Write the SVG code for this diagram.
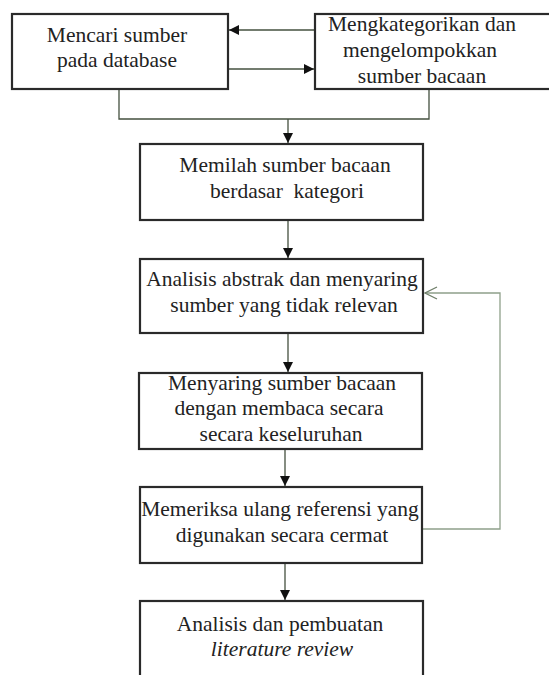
<svg xmlns="http://www.w3.org/2000/svg" width="549" height="675" viewBox="0 0 549 675">
<style>
.box{fill:#fff;stroke:#2a2a2a;stroke-width:2.2}
.t{font-family:"Liberation Serif","Times New Roman",serif;font-size:21.5px;fill:#222;text-anchor:middle}
.i{font-style:italic}
.c{fill:none;stroke:#44503f;stroke-width:1.3}
.fb{fill:none;stroke:#8fa08a;stroke-width:1.3}
</style>
<defs>
<marker id="ah" viewBox="0 0 10 10" refX="10" refY="5" markerWidth="10" markerHeight="10" markerUnits="userSpaceOnUse" orient="auto">
<path d="M0,0 L10,5 L0,10 Z" fill="#111"/>
</marker>
<marker id="oa" viewBox="0 0 14 14" refX="13" refY="7" markerWidth="14" markerHeight="14" markerUnits="userSpaceOnUse" orient="auto">
<path d="M1,1 L13,7 L1,13" fill="none" stroke="#6f7f6a" stroke-width="1.3"/>
</marker>
</defs>
<g id="connectors">
<line class="c" x1="315" y1="30" x2="229" y2="30" marker-end="url(#ah)"/>
<line class="c" x1="228" y1="69" x2="314" y2="69" marker-end="url(#ah)"/>
<polyline class="c" points="119,89 119,119 429,119 429,89"/>
<line class="c" x1="288" y1="119" x2="288" y2="143" marker-end="url(#ah)"/>
<line class="c" x1="288" y1="220" x2="288" y2="258" marker-end="url(#ah)"/>
<line class="c" x1="288" y1="333" x2="288" y2="372" marker-end="url(#ah)"/>
<line class="c" x1="285" y1="449" x2="285" y2="486" marker-end="url(#ah)"/>
<line class="c" x1="285" y1="563" x2="285" y2="600" marker-end="url(#ah)"/>
<polyline class="fb" points="423,529 500,529 500,293 425,293" marker-end="url(#oa)"/>
</g>
<g id="n1">
<rect class="box" x="12" y="14" width="216" height="75"/>
<text class="t" x="117" y="42">Mencari sumber</text>
<text class="t" x="117" y="67">pada database</text>
</g>
<g id="n2">
<rect class="box" x="315" y="14" width="250" height="75"/>
<text class="t" x="422" y="31">Mengkategorikan dan</text>
<text class="t" x="420" y="57">mengelompokkan</text>
<text class="t" x="422" y="83">sumber bacaan</text>
</g>
<g id="n3">
<rect class="box" x="140" y="144" width="283" height="76"/>
<text class="t" x="285" y="172">Memilah sumber bacaan</text>
<text class="t" x="287" y="198" xml:space="preserve">berdasar  kategori</text>
</g>
<g id="n4">
<rect class="box" x="140" y="259" width="283" height="74" stroke-width="2.8"/>
<text class="t" x="282" y="286">Analisis abstrak dan menyaring</text>
<text class="t" x="284" y="312">sumber yang tidak relevan</text>
</g>
<g id="n5">
<rect class="box" x="139" y="373" width="283" height="76"/>
<text class="t" x="282" y="390">Menyaring sumber bacaan</text>
<text class="t" x="279" y="415">dengan membaca secara</text>
<text class="t" x="281" y="441">secara keseluruhan</text>
</g>
<g id="n6">
<rect class="box" x="140" y="487" width="282" height="76"/>
<text class="t" x="280" y="516">Memeriksa ulang referensi yang</text>
<text class="t" x="282" y="542">digunakan secara cermat</text>
</g>
<g id="n7">
<rect class="box" x="140" y="601" width="283" height="90"/>
<text class="t" x="280" y="631">Analisis dan pembuatan</text>
<text class="t i" x="282" y="656">literature review</text>
</g>
</svg>
